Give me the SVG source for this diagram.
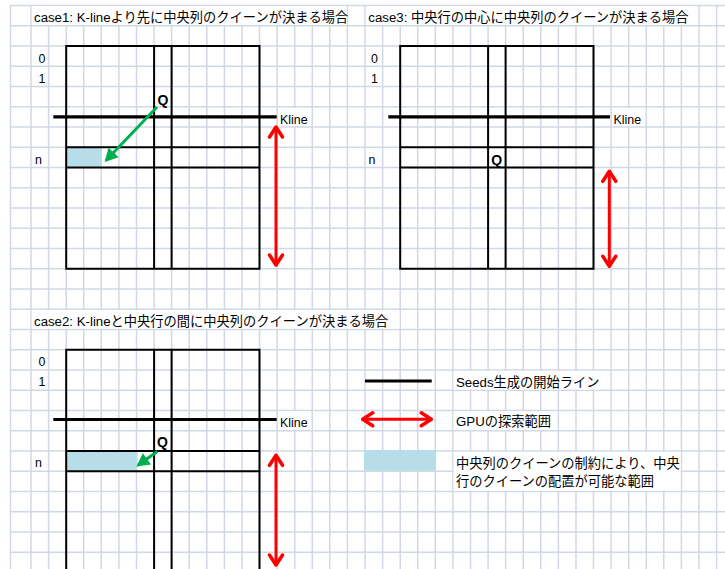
<svg xmlns="http://www.w3.org/2000/svg" width="725" height="569" viewBox="0 0 725 569">
<style>
  .g{stroke:#D0D7E5;stroke-width:1.5;fill:none}
  .b{stroke:#000;stroke-width:2;fill:none}
  .k{stroke:#000;stroke-width:3.2}
  .t{font-family:"Liberation Sans","Noto Sans CJK JP",sans-serif;font-size:13.25px;fill:#000}
  .n{font-family:"Liberation Sans","Noto Sans CJK JP",sans-serif;font-size:12.4px;fill:#000}
  .q{font-family:"Liberation Sans","Noto Sans CJK JP",sans-serif;font-size:14px;font-weight:bold;fill:#000}
  .w{fill:#fff}
  .blue{fill:#B7DEE8}
  .red{stroke:#FF0000;stroke-width:3;fill:none;marker-start:url(#ra);marker-end:url(#ra)}
  .grn{stroke:#00B050;stroke-width:3;fill:none;marker-end:url(#ga)}
</style>
<defs>
  <marker id="ra" viewBox="-14 -9 16 18" refX="0" refY="0" markerWidth="16" markerHeight="18" markerUnits="userSpaceOnUse" orient="auto-start-reverse">
    <path d="M-10,-6.5 L0,0 L-10,6.5" fill="none" stroke="#FF0000" stroke-width="3.5" stroke-linejoin="round" stroke-linecap="round"/>
  </marker>
  <marker id="ga" viewBox="-14 -8 16 16" refX="0" refY="0" markerWidth="16" markerHeight="16" markerUnits="userSpaceOnUse" orient="auto">
    <path d="M2,0 L-11,-7 L-11,7 Z" fill="#00B050"/>
  </marker>
</defs>
<rect width="725" height="569" fill="#fff"/>
<g id="grid" class="g">
  <line x1="10.5" y1="5" x2="10.5" y2="569"/>
  <line x1="31" y1="5" x2="31" y2="569"/>
  <line x1="48.6" y1="5" x2="48.6" y2="569"/>
  <line x1="66.2" y1="5" x2="66.2" y2="569"/>
  <line x1="83.7" y1="5" x2="83.7" y2="569"/>
  <line x1="101.3" y1="5" x2="101.3" y2="569"/>
  <line x1="118.9" y1="5" x2="118.9" y2="569"/>
  <line x1="136.5" y1="5" x2="136.5" y2="569"/>
  <line x1="154.1" y1="5" x2="154.1" y2="569"/>
  <line x1="171.6" y1="5" x2="171.6" y2="569"/>
  <line x1="189.2" y1="5" x2="189.2" y2="569"/>
  <line x1="206.8" y1="5" x2="206.8" y2="569"/>
  <line x1="224.4" y1="5" x2="224.4" y2="569"/>
  <line x1="242" y1="5" x2="242" y2="569"/>
  <line x1="259.5" y1="5" x2="259.5" y2="569"/>
  <line x1="277.1" y1="5" x2="277.1" y2="569"/>
  <line x1="294.7" y1="5" x2="294.7" y2="569"/>
  <line x1="312.3" y1="5" x2="312.3" y2="569"/>
  <line x1="329.8" y1="5" x2="329.8" y2="569"/>
  <line x1="347.4" y1="5" x2="347.4" y2="569"/>
  <line x1="365" y1="5" x2="365" y2="569"/>
  <line x1="382.6" y1="5" x2="382.6" y2="569"/>
  <line x1="400.2" y1="5" x2="400.2" y2="569"/>
  <line x1="417.7" y1="5" x2="417.7" y2="569"/>
  <line x1="435.3" y1="5" x2="435.3" y2="569"/>
  <line x1="452.9" y1="5" x2="452.9" y2="569"/>
  <line x1="470.5" y1="5" x2="470.5" y2="569"/>
  <line x1="488.1" y1="5" x2="488.1" y2="569"/>
  <line x1="505.6" y1="5" x2="505.6" y2="569"/>
  <line x1="523.2" y1="5" x2="523.2" y2="569"/>
  <line x1="540.8" y1="5" x2="540.8" y2="569"/>
  <line x1="558.4" y1="5" x2="558.4" y2="569"/>
  <line x1="576" y1="5" x2="576" y2="569"/>
  <line x1="593.5" y1="5" x2="593.5" y2="569"/>
  <line x1="611.1" y1="5" x2="611.1" y2="569"/>
  <line x1="628.7" y1="5" x2="628.7" y2="569"/>
  <line x1="646.3" y1="5" x2="646.3" y2="569"/>
  <line x1="663.8" y1="5" x2="663.8" y2="569"/>
  <line x1="681.4" y1="5" x2="681.4" y2="569"/>
  <line x1="699" y1="5" x2="699" y2="569"/>
  <line x1="716.6" y1="5" x2="716.6" y2="569"/>
  <line x1="10" y1="5.5" x2="725" y2="5.5"/>
  <line x1="10" y1="25.75" x2="725" y2="25.75"/>
  <line x1="10" y1="46" x2="725" y2="46"/>
  <line x1="10" y1="66.25" x2="725" y2="66.25"/>
  <line x1="10" y1="86.5" x2="725" y2="86.5"/>
  <line x1="10" y1="106.75" x2="725" y2="106.75"/>
  <line x1="10" y1="127" x2="725" y2="127"/>
  <line x1="10" y1="147.25" x2="725" y2="147.25"/>
  <line x1="10" y1="167.5" x2="725" y2="167.5"/>
  <line x1="10" y1="187.75" x2="725" y2="187.75"/>
  <line x1="10" y1="208" x2="725" y2="208"/>
  <line x1="10" y1="228.25" x2="725" y2="228.25"/>
  <line x1="10" y1="248.5" x2="725" y2="248.5"/>
  <line x1="10" y1="268.75" x2="725" y2="268.75"/>
  <line x1="10" y1="289" x2="725" y2="289"/>
  <line x1="10" y1="309.25" x2="725" y2="309.25"/>
  <line x1="10" y1="329.5" x2="725" y2="329.5"/>
  <line x1="10" y1="349.75" x2="725" y2="349.75"/>
  <line x1="10" y1="370" x2="725" y2="370"/>
  <line x1="10" y1="390.25" x2="725" y2="390.25"/>
  <line x1="10" y1="410.5" x2="725" y2="410.5"/>
  <line x1="10" y1="430.75" x2="725" y2="430.75"/>
  <line x1="10" y1="451" x2="725" y2="451"/>
  <line x1="10" y1="471.25" x2="725" y2="471.25"/>
  <line x1="10" y1="491.5" x2="725" y2="491.5"/>
  <line x1="10" y1="511.75" x2="725" y2="511.75"/>
  <line x1="10" y1="532" x2="725" y2="532"/>
  <line x1="10" y1="552.25" x2="725" y2="552.25"/>
</g>
<g id="titles">
  <rect class="w" x="31.8" y="6.3" width="314.8" height="18.7"/>
  <text class="t" x="34" y="21.5">case1: K-lineより先に中央列のクイーンが決まる場合</text>
  <rect class="w" x="365.8" y="6.3" width="332.4" height="18.7"/>
  <text class="t" x="368.3" y="21.5">case3: 中央行の中心に中央列のクイーンが決まる場合</text>
  <rect class="w" x="31.8" y="310" width="367.6" height="18.7"/>
  <text class="t" x="34" y="326">case2: K-lineと中央行の間に中央列のクイーンが決まる場合</text>
</g>
<g id="case1">
  <rect class="blue" x="66.2" y="147.25" width="35.5" height="20.25"/>
  <rect class="b" x="66.2" y="46" width="193.3" height="222.75"/>
  <line class="b" x1="154.1" y1="46" x2="154.1" y2="268.75"/>
  <line class="b" x1="171.6" y1="46" x2="171.6" y2="268.75"/>
  <line class="b" x1="66.2" y1="147.25" x2="259.5" y2="147.25"/>
  <line class="b" x1="66.2" y1="167.5" x2="259.5" y2="167.5"/>
  <line class="k" x1="53.3" y1="116.9" x2="276.7" y2="116.9"/>
  <rect class="w" x="278.5" y="108" width="32" height="18"/>
  <text class="n" x="280" y="124">Kline</text>
  <text class="n" x="38.5" y="62.7">0</text>
  <text class="n" x="38.5" y="82.7">1</text>
  <text class="n" x="35" y="163.5">n</text>
  <text class="q" x="157.4" y="104.8">Q</text>
</g>
<g id="case3">
  <rect class="b" x="400.2" y="46" width="193.3" height="222.75"/>
  <line class="b" x1="488.1" y1="46" x2="488.1" y2="268.75"/>
  <line class="b" x1="505.6" y1="46" x2="505.6" y2="268.75"/>
  <line class="b" x1="400.2" y1="147.25" x2="593.5" y2="147.25"/>
  <line class="b" x1="400.2" y1="167.5" x2="593.5" y2="167.5"/>
  <line class="k" x1="388.3" y1="116.9" x2="610" y2="116.9"/>
  <rect class="w" x="612" y="108" width="32" height="18"/>
  <text class="n" x="613.5" y="124">Kline</text>
  <text class="n" x="371" y="62.7">0</text>
  <text class="n" x="371" y="82.7">1</text>
  <text class="n" x="368.5" y="163.5">n</text>
  <text class="q" x="491.2" y="165.3">Q</text>
</g>
<g id="case2">
  <rect class="blue" x="66.2" y="451" width="71.1" height="20.25"/>
  <path class="b" d="M66.2,569 V349.75 H259.5 V569"/>
  <line class="b" x1="154.1" y1="349.75" x2="154.1" y2="569"/>
  <line class="b" x1="171.6" y1="349.75" x2="171.6" y2="569"/>
  <line class="b" x1="66.2" y1="451" x2="259.5" y2="451"/>
  <line class="b" x1="66.2" y1="471.25" x2="259.5" y2="471.25"/>
  <line class="k" x1="53.3" y1="419.5" x2="276.7" y2="419.5"/>
  <rect class="w" x="278.5" y="411" width="32" height="18"/>
  <text class="n" x="280" y="426.5">Kline</text>
  <text class="n" x="38.5" y="365.7">0</text>
  <text class="n" x="38.5" y="385.7">1</text>
  <text class="n" x="35" y="466.7">n</text>
  <text class="q" x="157" y="446.8">Q</text>
</g>
<g id="legend">
  <line class="k" x1="365" y1="381" x2="431.7" y2="381"/>
  <rect class="w" x="453.6" y="370.8" width="146" height="18.8"/>
  <text class="t" x="456" y="386.5">Seeds生成の開始ライン</text>
  <rect class="w" x="453.6" y="411.3" width="92" height="18.8"/>
  <text class="t" x="456" y="425.5">GPUの探索範囲</text>
  <rect class="blue" x="364" y="450" width="72" height="20.7"/>
  <rect class="w" x="453.6" y="451.8" width="227" height="39"/>
  <text class="t" x="456" y="467.5">中央列のクイーンの制約により、中央</text>
  <text class="t" x="456" y="486">行のクイーンの配置が可能な範囲</text>
</g>
<g id="connectors">
  <line class="red" x1="276" y1="127" x2="276" y2="265"/>
  <line class="red" x1="609.3" y1="171.3" x2="609.3" y2="266.3"/>
  <line class="red" x1="276" y1="455.3" x2="276" y2="565"/>
  <line class="red" x1="362.7" y1="419.3" x2="431.3" y2="419.3"/>
  <line class="grn" x1="157" y1="107" x2="106" y2="160.5"/>
  <line class="grn" x1="157.3" y1="451.5" x2="138" y2="465.3"/>
</g>
</svg>
